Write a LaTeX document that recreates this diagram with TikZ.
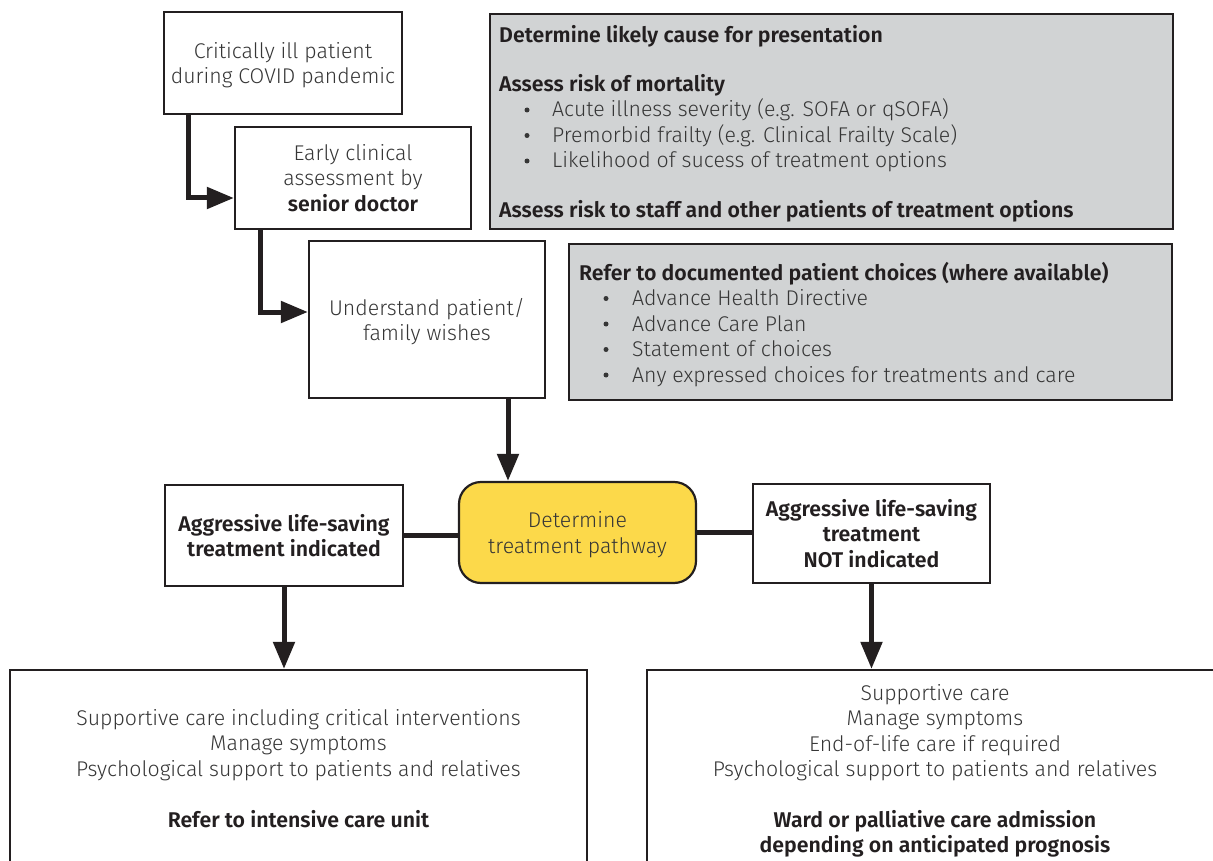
\documentclass[tikz,border=0pt]{standalone}
\usepackage{fontspec}
\setmainfont{Fira Sans Light}[BoldFont={Fira Sans SemiBold}]
\usetikzlibrary{arrows.meta,calc}
\definecolor{txt}{HTML}{363636}
\definecolor{btxt}{HTML}{231F20}
\definecolor{edge}{HTML}{231F20}
\definecolor{greyfill}{HTML}{D1D3D4}
\definecolor{yel}{HTML}{FCD94A}
\begin{document}
\begin{tikzpicture}[x=1pt,y=-1pt,
  every node/.style={font=\fontsize{21.3}{25.5}\selectfont, text=txt},
  box/.style={draw=edge, line width=2.2pt, fill=white, inner sep=0pt, align=center},
  greybox/.style={draw=edge, line width=2.2pt, fill=greyfill, inner sep=0pt},
  pathbox/.style={box, fill=yel, rounded corners=22pt},
  boldbox/.style={box, font=\fontsize{21.3}{25.5}\selectfont\bfseries, text=btxt},
  arr/.style={draw=edge, line width=5pt, -{Triangle[length=27pt,width=21pt]}},
  link/.style={draw=edge, line width=5pt},
  ln/.style={anchor=base west, inner sep=0pt},
  cln/.style={anchor=base, inner sep=0pt},
  hd/.style={font=\fontsize{21.3}{25.5}\selectfont\bfseries, text=btxt},
  dot/.style={circle, fill=txt, inner sep=0pt, minimum size=5pt},
  lowtext/.style={text depth=-1.5pt},
]
\useasboundingbox (0,0) rectangle (1213,861);

% boxes
\node[box, lowtext, minimum width=238pt, minimum height=102pt] (crit) at (283,63) {Critically ill patient\\during COVID pandemic};
\node[box, minimum width=236pt, minimum height=102pt] (early) at (353,178) {Early clinical\\assessment by\\\textbf{\color{btxt}senior doctor}};
\node[box, lowtext, minimum width=236pt, minimum height=157pt] (wish) at (427,319.5) {Understand patient/\\family wishes};
\node[greybox, minimum width=683pt, minimum height=215pt] (risk) at (831.5,121.5) {};
\node[greybox, minimum width=603pt, minimum height=156pt] (docs) at (870.5,322) {};
\node[pathbox, lowtext, minimum width=237pt, minimum height=101pt] (path) at (577.5,532.5) {Determine\\treatment pathway};
\node[boldbox, minimum width=238pt, minimum height=101pt] (yes) at (284,535.5) {Aggressive life-saving\\treatment indicated};
\node[boldbox, minimum width=237pt, minimum height=99pt] (no) at (871.5,533.5) {Aggressive life-saving\\treatment\\NOT indicated};
\node[box, minimum width=577pt, minimum height=220pt] (icu) at (298.5,780) {};
\node[box, minimum width=590pt, minimum height=220pt] (ward) at (942,780) {};

% grey box 1 text
\node[ln,hd] (r1) at (499,42.5) {Determine likely cause for presentation};
\node[ln,hd] (r2) at (499,92) {Assess risk of mortality};
\node[dot] (r3b) at (527,110) {};
\node[ln] (r3) at (552,117) {Acute illness severity (e.g. SOFA or qSOFA)};
\node[dot] (r4b) at (527,135.5) {};
\node[ln] (r4) at (552,142.5) {Premorbid frailty (e.g. Clinical Frailty Scale)};
\node[dot] (r5b) at (527,161) {};
\node[ln] (r5) at (552,168) {Likelihood of sucess of treatment options};
\node[ln,hd] (r6) at (499,218) {Assess risk to staff and other patients of treatment options};

% grey box 2 text
\node[ln,hd] (d1) at (579,280) {Refer to documented patient choices (where available)};
\node[dot] (d2b) at (606,298.5) {};
\node[ln] (d2) at (632,305.5) {Advance Health Directive};
\node[dot] (d3b) at (606,324) {};
\node[ln] (d3) at (632,331) {Advance Care Plan};
\node[dot] (d4b) at (606,349.5) {};
\node[ln] (d4) at (632,356.5) {Statement of choices};
\node[dot] (d5b) at (606,375) {};
\node[ln] (d5) at (632,382) {Any expressed choices for treatments and care};

% bottom left text
\node[cln] (i1) at (298.5,725) {Supportive care including critical interventions};
\node[cln] (i2) at (298.5,750.5) {Manage symptoms};
\node[cln] (i3) at (298.5,776) {Psychological support to patients and relatives};
\node[cln,hd] (i4) at (298.5,827) {Refer to intensive care unit};

% bottom right text
\node[cln] (w1) at (935,700) {Supportive care};
\node[cln] (w2) at (935,725.5) {Manage symptoms};
\node[cln] (w3) at (935,751) {End-of-life care if required};
\node[cln] (w4) at (935,776.5) {Psychological support to patients and relatives};
\node[cln,hd] (w5) at (935,827) {Ward or palliative care admission};
\node[cln,hd] (w6) at (935,852.5) {depending on anticipated prognosis};

% connectors
\coordinate (a1) at ($(crit.south west)+(26,0)$);
\draw[arr] (a1) |- ($(early.west)+(0,20)$);
\coordinate (a2) at ($(early.south west)+(27,0)$);
\draw[arr] (a2) |- ($(wish.west)+(0,-7.5)$);
\coordinate (a3) at ($(wish.south)+(81,0)$);
\draw[arr] (a3) -- (a3 |- path.north);
\draw[link] (yes.east) -- (yes.east -| path.west);
\draw[link] (path.east) -- (path.east -| no.west);
\draw[arr] (yes.south) -- (yes.south |- icu.north);
\draw[arr] (no.south) -- (no.south |- ward.north);
\end{tikzpicture}
\end{document}
